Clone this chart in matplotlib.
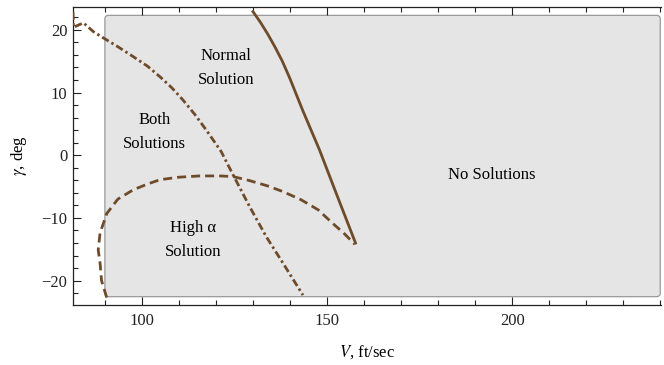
import matplotlib
matplotlib.use("Agg")
import matplotlib.pyplot as plt
from matplotlib.patches import FancyBboxPatch
from matplotlib.ticker import MultipleLocator

plt.rcParams['font.family'] = ['Liberation Serif', 'DejaVu Serif']
plt.rcParams['mathtext.fontset'] = 'stix'
plt.rcParams['lines.scale_dashes'] = False

brown = "#6e4b2a"

# normal-solution boundary (solid)
v_norm = [130.0, 132.0, 134.0, 136.0, 138.0, 140.0, 143.4, 148.0, 152.5, 157.7]
g_norm = [22.9, 21.2, 19.3, 17.2, 14.9, 12.2, 7.2, 0.8, -6.1, -14.0]

# high-alpha boundary (dashed)
v_high = [90.5, 89.1, 88.7, 88.2, 88.7, 90.5, 93.5, 97.7, 101.5, 104.9, 110.0, 115.6,
          121.0, 124.6, 129.1, 134.0, 138.1, 143.0, 147.6, 151.6, 154.5, 157.5]
g_high = [-22.7, -20.0, -17.2, -15.1, -12.4, -9.3, -7.0, -5.5, -4.6, -3.9, -3.5, -3.3,
          -3.3, -3.4, -4.05, -4.9, -5.8, -7.1, -8.7, -10.9, -12.4, -14.2]

# both-solutions boundary (dash-dot)
v_both = [81.4, 81.5, 84.2, 86.9, 89.6, 93.5, 97.7, 101.5, 104.9, 108.0, 111.1,
          114.3, 117.4, 121.4, 124.6, 129.1, 133.6, 138.1, 143.5]
g_both = [22.8, 20.4, 21.1, 19.7, 18.7, 17.3, 15.7, 14.2, 12.5, 10.8, 8.8,
          6.5, 4.0, 0.6, -3.1, -8.2, -13.0, -17.2, -22.3]

region_labels = ["Normal\nSolution", "Both\nSolutions", "High α\nSolution", "No Solutions"]
label_v = [122.7, 103.5, 113.8, 194.4]
label_g = [13.9, 3.7, -13.5, -3.2]

fig = plt.figure(figsize=(6.64, 3.65), dpi=100)
ax = fig.add_axes([0.110, 0.164, 0.886, 0.818])
ax.set_xlim(81.4, 240.3)
ax.set_ylim(-23.9, 23.7)

box = FancyBboxPatch((90, -22.55), 150, 44.85,
                     boxstyle="round,pad=0,rounding_size=1.0",
                     mutation_aspect=0.59,
                     facecolor="#e5e5e5", edgecolor="#9a9a9a", lw=0.9, zorder=1)
ax.add_patch(box)

ax.plot(v_norm, g_norm, color=brown, lw=2.0, zorder=3)
ax.plot(v_high, g_high, color=brown, lw=2.0, dashes=(6.5, 3.6), zorder=3)
ax.plot(v_both, g_both, color=brown, lw=2.0, dashes=(5.5, 2.3, 1.8, 2.3), zorder=3)

for txt, x, y in zip(region_labels, label_v, label_g):
    ax.text(x, y, txt, ha="center", va="center", fontsize=12, linespacing=1.6, zorder=4)

ax.set_xlabel("$V$, ft/sec", fontsize=12, labelpad=10)
ax.set_ylabel("$\\gamma$, deg", fontsize=12, labelpad=9)

ax.xaxis.set_major_locator(MultipleLocator(50))
ax.xaxis.set_minor_locator(MultipleLocator(10))
ax.yaxis.set_major_locator(MultipleLocator(10))
ax.yaxis.set_minor_locator(MultipleLocator(2))
ax.tick_params(which="both", direction="in", top=True, right=False, labelsize=12,
               width=0.8, colors="#222222")
ax.tick_params(axis="x", pad=6)
ax.tick_params(axis="y", pad=4)
ax.tick_params(which="major", length=6)
ax.tick_params(which="minor", length=3.5)
ax.spines['right'].set_visible(False)
for s in ['left', 'bottom', 'top']:
    ax.spines[s].set_linewidth(0.9)
    ax.spines[s].set_color("#222222")

fig.savefig("out.png", dpi=100)
